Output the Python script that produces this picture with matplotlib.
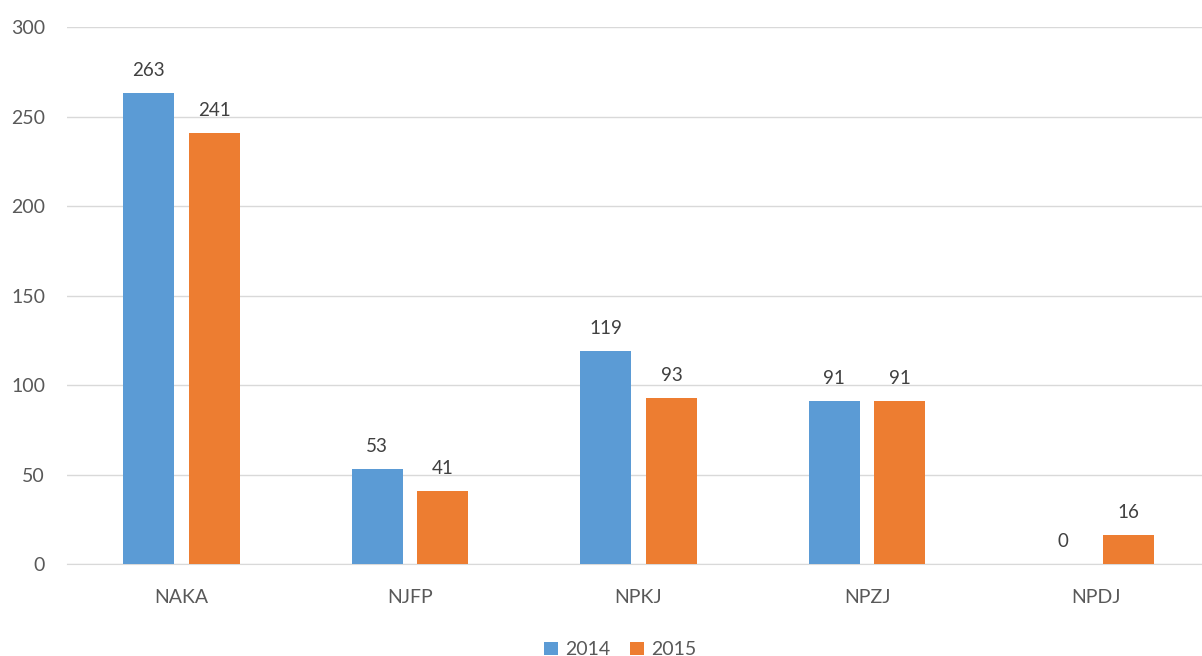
import matplotlib
matplotlib.use("Agg")
import matplotlib.pyplot as plt
import numpy as np

categories = ["NAKA", "NJFP", "NPKJ", "NPZJ", "NPDJ"]
values_2014 = [263, 53, 119, 91, 0]
values_2015 = [241, 41, 93, 91, 16]
series_names = ["2014", "2015"]

plt.rcParams["font.family"] = ["Lato", "DejaVu Sans"]

fig = plt.figure(figsize=(12.02, 6.56), dpi=100)
ax = fig.add_axes([0.056, 0.1402, 0.9505, 0.8186])

x = np.arange(len(categories))
width = 0.223
offset = 0.144
blue, orange = "#5B9BD5", "#ED7D31"
b1 = ax.bar(x - offset, values_2014, width, color=blue, label=series_names[0], zorder=3)
b2 = ax.bar(x + offset, values_2015, width, color=orange, label=series_names[1], zorder=3)

for bars in (b1, b2):
    for rect in bars:
        h = rect.get_height()
        ax.annotate(f"{int(h)}", (rect.get_x() + rect.get_width() / 2, h),
                    xytext=(0, 10), textcoords="offset points",
                    ha="center", va="bottom", fontsize=13.5, color="#404040")

ax.set_xlim(-0.5, len(categories) - 0.5)
ax.set_ylim(0, 300)
ax.set_yticks(range(0, 301, 50))
ax.set_xticks(x)
ax.set_xticklabels(categories)
ax.yaxis.grid(True, color="#D9D9D9", linewidth=1, zorder=0)
for s in ["top", "right", "left"]:
    ax.spines[s].set_visible(False)
ax.spines["bottom"].set_color("#D9D9D9")
ax.tick_params(axis="both", length=0, labelsize=14, colors="#595959")
ax.tick_params(axis="y", pad=16)
ax.tick_params(axis="x", pad=18)

ax.legend(loc="center", bbox_to_anchor=(0.5 - 0.016, -0.16), ncol=2, frameon=False,
          fontsize=14, handlelength=0.7, handleheight=0.7, handletextpad=0.4,
          columnspacing=1.0, labelcolor="#595959")

fig.savefig("out.png", dpi=100)
